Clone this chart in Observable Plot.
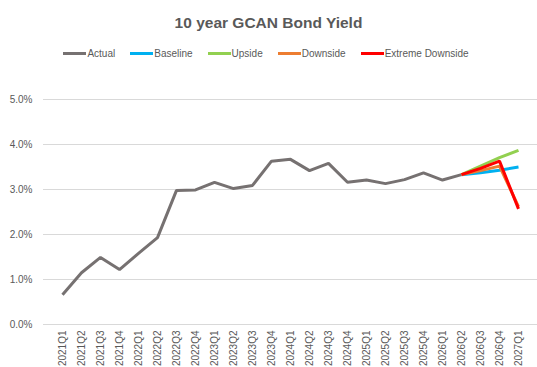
<!DOCTYPE html>
<html><head><meta charset="utf-8">
<script src="https://cdn.jsdelivr.net/npm/d3@7"></script>
<script src="https://cdn.jsdelivr.net/npm/@observablehq/plot@0.6"></script>
<style>
body{margin:0;background:#fff;font-family:"Liberation Sans",Arial,sans-serif;width:537px;height:367px;overflow:hidden}
#title{height:40px;line-height:46px;text-align:center;font-size:15.5px;font-weight:bold;color:#595959}
#legend{height:30px;display:flex;justify-content:center;align-items:flex-start;padding-top:8px;box-sizing:border-box;font-size:10px;color:#595959;padding-left:10px}
.item{display:flex;align-items:center;margin-right:15px}
.sw{width:23px;height:3px;margin-right:1px}
</style></head>
<body>
<div id="title">10 year GCAN Bond Yield</div>
<div id="legend"></div>
<div id="chart"></div>
<script>
const quarters = ["2021Q1","2021Q2","2021Q3","2021Q4","2022Q1","2022Q2","2022Q3","2022Q4","2023Q1","2023Q2","2023Q3","2023Q4","2024Q1","2024Q2","2024Q3","2024Q4","2025Q1","2025Q2","2025Q3","2025Q4","2026Q1","2026Q2","2026Q3","2026Q4","2027Q1"];
const actual = [0.66,1.15,1.49,1.22,1.58,1.93,2.98,2.99,3.16,3.02,3.09,3.63,3.67,3.42,3.58,3.16,3.21,3.13,3.22,3.37,3.21,3.33];
const scenarioQuarters = ["2026Q2","2026Q3","2026Q4","2027Q1"];
const baseline = [3.33,3.37,3.43,3.50];
const upside = [3.33,3.52,3.71,3.87];
const downside = [3.33,3.42,3.52,2.62];
const extreme = [3.33,3.47,3.63,2.57];
const seriesNames = ["Actual","Baseline","Upside","Downside","Extreme Downside"];
const seriesColors = ["#767171","#00B0F0","#92D050","#ED7D31","#FF0000"];
const yTicks = [0,1,2,3,4,5];

const rows = [];
actual.forEach((v,i)=>rows.push({q:quarters[i],v,s:"Actual"}));
[baseline,upside,downside,extreme].forEach((arr,k)=>arr.forEach((v,i)=>rows.push({q:scenarioQuarters[i],v,s:seriesNames[k+1]})));

const leg = document.getElementById("legend");
seriesNames.forEach((n,i)=>{
  const d=document.createElement("div");d.className="item";
  d.innerHTML=`<span class="sw" style="background:${seriesColors[i]}"></span><span>${n}</span>`;
  leg.appendChild(d);
});

const chart = Plot.plot({
  width:537, height:297,
  marginLeft:43, marginRight:0, marginTop:29, marginBottom:43,
  style:{fontFamily:"Liberation Sans, Arial, sans-serif",fontSize:"10px",color:"#595959",background:"transparent"},
  x:{type:"point",domain:quarters,padding:0.5,label:null},
  y:{domain:[0,5],label:null},
  color:{domain:seriesNames,range:seriesColors},
  marks:[
    Plot.gridY(yTicks,{stroke:"#d9d9d9",strokeOpacity:1,strokeWidth:1}),
    Plot.axisY(yTicks,{tickSize:0,tickPadding:11,tickFormat:d=>d.toFixed(1)+"%",label:null,fill:"#595959",fontSize:10}),
    Plot.axisX({tickSize:0,tickRotate:-90,tickPadding:6,label:null,fill:"#595959",fontSize:10}),
    ...seriesNames.map(n=>Plot.line(rows.filter(r=>r.s===n),{x:"q",y:"v",stroke:"s",strokeWidth:3,strokeLinejoin:"miter",strokeLinecap:"butt"}))
  ]
});
document.getElementById("chart").appendChild(chart);
</script>
</body></html>
